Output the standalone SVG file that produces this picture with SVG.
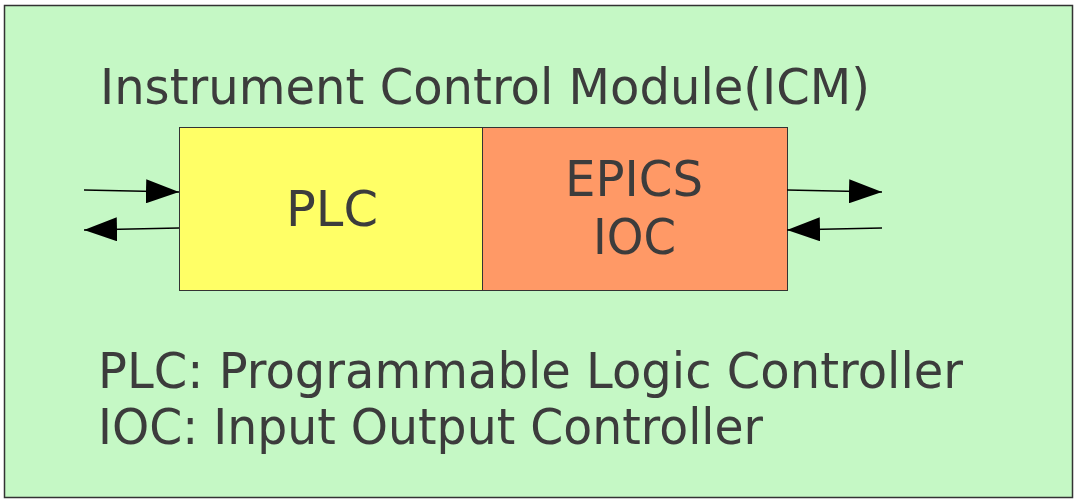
<svg xmlns="http://www.w3.org/2000/svg" width="1075" height="500" viewBox="0 0 1075 500">
  <style>
    .lbl { font-family: "DejaVu Sans", "Noto Sans", sans-serif; fill: #3c3c3c; font-size: 50px; }
    .wire { stroke: #000; stroke-width: 1.5; fill: none; }
  </style>
  <defs>
    <marker id="head" viewBox="0 0 33 24" refX="33" refY="12" markerWidth="33" markerHeight="24" markerUnits="userSpaceOnUse" orient="auto">
      <path d="M0,0 L33,12 L0,24 Z" fill="#000"/>
    </marker>
  </defs>
  <rect x="0" y="0" width="1075" height="500" fill="#ffffff"/>
  <g id="icm">
    <rect x="4.5" y="5.5" width="1068" height="492" fill="#c5f8c5" stroke="#333" stroke-width="1.5"/>
    <text class="lbl" x="100" y="104" textLength="770" lengthAdjust="spacingAndGlyphs">Instrument Control Module(ICM)</text>
  </g>
  <g id="plc">
    <rect x="179.5" y="127.5" width="303" height="163" fill="#ffff66" stroke="#333" stroke-width="1"/>
    <text class="lbl" x="286" y="226" textLength="92" lengthAdjust="spacingAndGlyphs">PLC</text>
  </g>
  <g id="ioc">
    <rect x="482.5" y="127.5" width="305" height="163" fill="#ff9966" stroke="#333" stroke-width="1"/>
    <text class="lbl" x="565" y="196" textLength="138" lengthAdjust="spacingAndGlyphs">EPICS</text>
    <text class="lbl" x="593" y="254" textLength="83" lengthAdjust="spacingAndGlyphs">IOC</text>
  </g>
  <g id="connectors">
    <line class="wire" x1="84" y1="190" x2="179" y2="192" marker-end="url(#head)"/>
    <line class="wire" x1="179" y1="228" x2="84" y2="230" marker-end="url(#head)"/>
    <line class="wire" x1="787" y1="190" x2="882" y2="192" marker-end="url(#head)"/>
    <line class="wire" x1="882" y1="228" x2="787" y2="230" marker-end="url(#head)"/>
  </g>
  <g id="legend">
    <text class="lbl" x="98" y="388" textLength="865" lengthAdjust="spacingAndGlyphs">PLC: Programmable Logic Controller</text>
    <text class="lbl" x="98" y="444" textLength="665" lengthAdjust="spacingAndGlyphs">IOC: Input Output Controller</text>
  </g>
</svg>
